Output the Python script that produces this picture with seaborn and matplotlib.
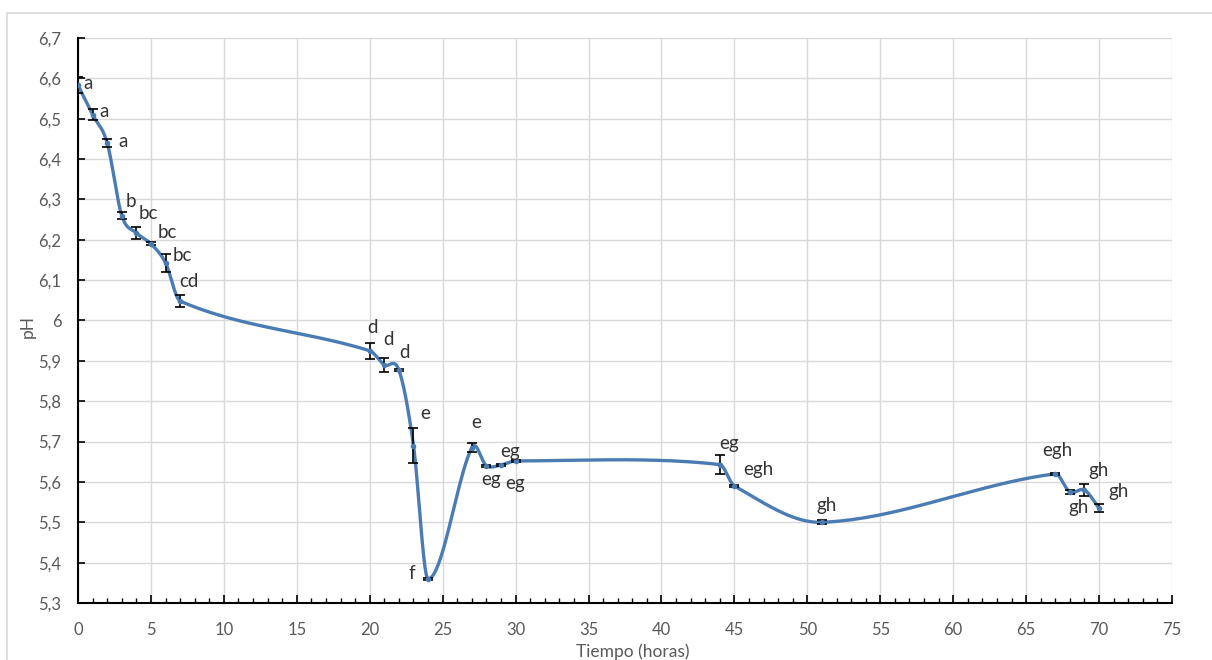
import numpy as np
import pandas as pd
import seaborn as sns
import matplotlib.pyplot as plt
from matplotlib.ticker import MultipleLocator, FuncFormatter
from matplotlib.patches import Rectangle

# Data
tiempo = [0, 1, 2, 3, 4, 5, 6, 7, 20, 21, 22, 23, 24, 27, 28, 29, 30, 44, 45, 51, 67, 68, 69, 70]
ph = [6.583, 6.51, 6.44, 6.26, 6.217, 6.19, 6.143, 6.048, 5.925, 5.89, 5.877, 5.69, 5.36,
      5.685, 5.64, 5.642, 5.652, 5.643, 5.59, 5.50, 5.62, 5.575, 5.58, 5.535]
err = [0.02, 0.014, 0.01, 0.009, 0.015, 0.004, 0.023, 0.015, 0.02, 0.017, 0.003, 0.043, 0.003,
       0.012, 0.003, 0.003, 0.003, 0.024, 0.003, 0.005, 0.003, 0.006, 0.015, 0.01]
letras = ['a', 'a', 'a', 'b', 'bc', 'bc', 'bc', 'cd', 'd', 'd', 'd', 'e', 'f',
          'e', 'eg', 'eg', 'eg', 'eg', 'egh', 'gh', 'egh', 'gh', 'gh', 'gh']
# label offsets in points (dx, dy)
offsets = [(7, 1.5), (8.6, 2), (11.5, 0.7), (6.5, 10), (8.6, 13.7), (11.5, 8), (12, 5), (6.5, 14.4),
           (2, 17), (3, 18), (4, 13), (8.6, 23), (-12, 4), (3, 18), (3, -10), (10, -13), (-4, 7),
           (7, 15), (17, 11.5), (3, 12), (1.5, 16.5), (6, -11.5), (10, 14), (14, 12)]

LINE_COLOR = '#4a7cb3'
TICK_COLOR = '#595959'

# smoothed line: cubic Hermite in x with Catmull-Rom style tangents
def smooth_curve(xs, ys, n=40):
    x = np.asarray(xs, float)
    y = np.asarray(ys, float)
    m = np.empty_like(y)
    m[1:-1] = (y[2:] - y[:-2]) / (x[2:] - x[:-2])
    m[0] = (y[1] - y[0]) / (x[1] - x[0])
    m[-1] = (y[-1] - y[-2]) / (x[-1] - x[-2])
    ox, oy = [], []
    for i in range(len(x) - 1):
        h = x[i + 1] - x[i]
        t = np.linspace(0, 1, n)
        if i > 0:
            t = t[1:]
        h00 = 2 * t**3 - 3 * t**2 + 1
        h10 = t**3 - 2 * t**2 + t
        h01 = -2 * t**3 + 3 * t**2
        h11 = t**3 - t**2
        ox.append(x[i] + t * h)
        oy.append(h00 * y[i] + h10 * h * m[i] + h01 * y[i + 1] + h11 * h * m[i + 1])
    return np.concatenate(ox), np.concatenate(oy)

sns.set_theme(style="whitegrid")
plt.rcParams['font.family'] = ['Lato', 'DejaVu Sans']

fig = plt.figure(figsize=(12.12, 6.6), dpi=100)
fig.patch.set_facecolor('white')
fig.patches.append(Rectangle((7 / 1212, -0.1), 1.2, 1 - 13 / 660 + 0.1, transform=fig.transFigure,
                             fill=False, edgecolor='#d9d9d9', linewidth=1.2))
ax = fig.add_axes([78 / 1212, 1 - 603 / 660, (1172 - 78) / 1212, (603 - 38) / 660])
ax.set_facecolor('white')

cx, cy = smooth_curve(tiempo, ph)
curve = pd.DataFrame({'x': cx, 'y': cy})
sns.lineplot(data=curve, x='x', y='y', sort=False, estimator=None, color=LINE_COLOR,
             linewidth=2.4, ax=ax, zorder=3)
ax.errorbar(tiempo, ph, yerr=err, fmt='none', ecolor='black', elinewidth=1.2,
            capsize=3.5, capthick=1.2, zorder=4)
ax.plot(tiempo, ph, 'o', color=LINE_COLOR, markersize=3, zorder=5)

for x, y, lab, (dx, dy) in zip(tiempo, ph, letras, offsets):
    ax.annotate(lab, (x, y), xytext=(dx, dy), textcoords='offset points', ha='center',
                va='center', fontsize=13.5, color='#333333', zorder=6)

ax.set_xlim(0, 75)
ax.set_ylim(5.3, 6.7)
ax.xaxis.set_major_locator(MultipleLocator(5))
ax.xaxis.set_minor_locator(MultipleLocator(1))
ax.yaxis.set_major_locator(MultipleLocator(0.1))
fmt = FuncFormatter(lambda v, p: f"{round(v, 2):g}".replace('.', ','))
ax.xaxis.set_major_formatter(fmt)
ax.yaxis.set_major_formatter(fmt)

ax.grid(True, which='major', color='#d9d9d9', linewidth=1.0)
ax.grid(False, which='minor')
for side in ['top', 'right']:
    ax.spines[side].set_visible(False)
for side in ['left', 'bottom']:
    ax.spines[side].set_visible(True)
    ax.spines[side].set_color('black')
    ax.spines[side].set_linewidth(1.5)

ax.tick_params(axis='x', which='major', direction='in', length=6, width=1.2, color='black',
               labelsize=12, labelcolor=TICK_COLOR, pad=14, bottom=True)
ax.tick_params(axis='x', which='minor', direction='in', length=3.5, width=1.0, color='black',
               bottom=True)
ax.tick_params(axis='y', which='major', direction='in', length=5, width=1.2, color='black',
               labelsize=12, labelcolor=TICK_COLOR, pad=12, left=True)

ax.set_xlabel('Tiempo (horas)', fontsize=12.5, color=TICK_COLOR)
ax.set_ylabel('pH', fontsize=12.5, color=TICK_COLOR)
ax.xaxis.set_label_coords(0.507, -0.071)
ax.yaxis.set_label_coords(-0.039, 0.49)

fig.savefig('out.png', dpi=100, facecolor='white')
